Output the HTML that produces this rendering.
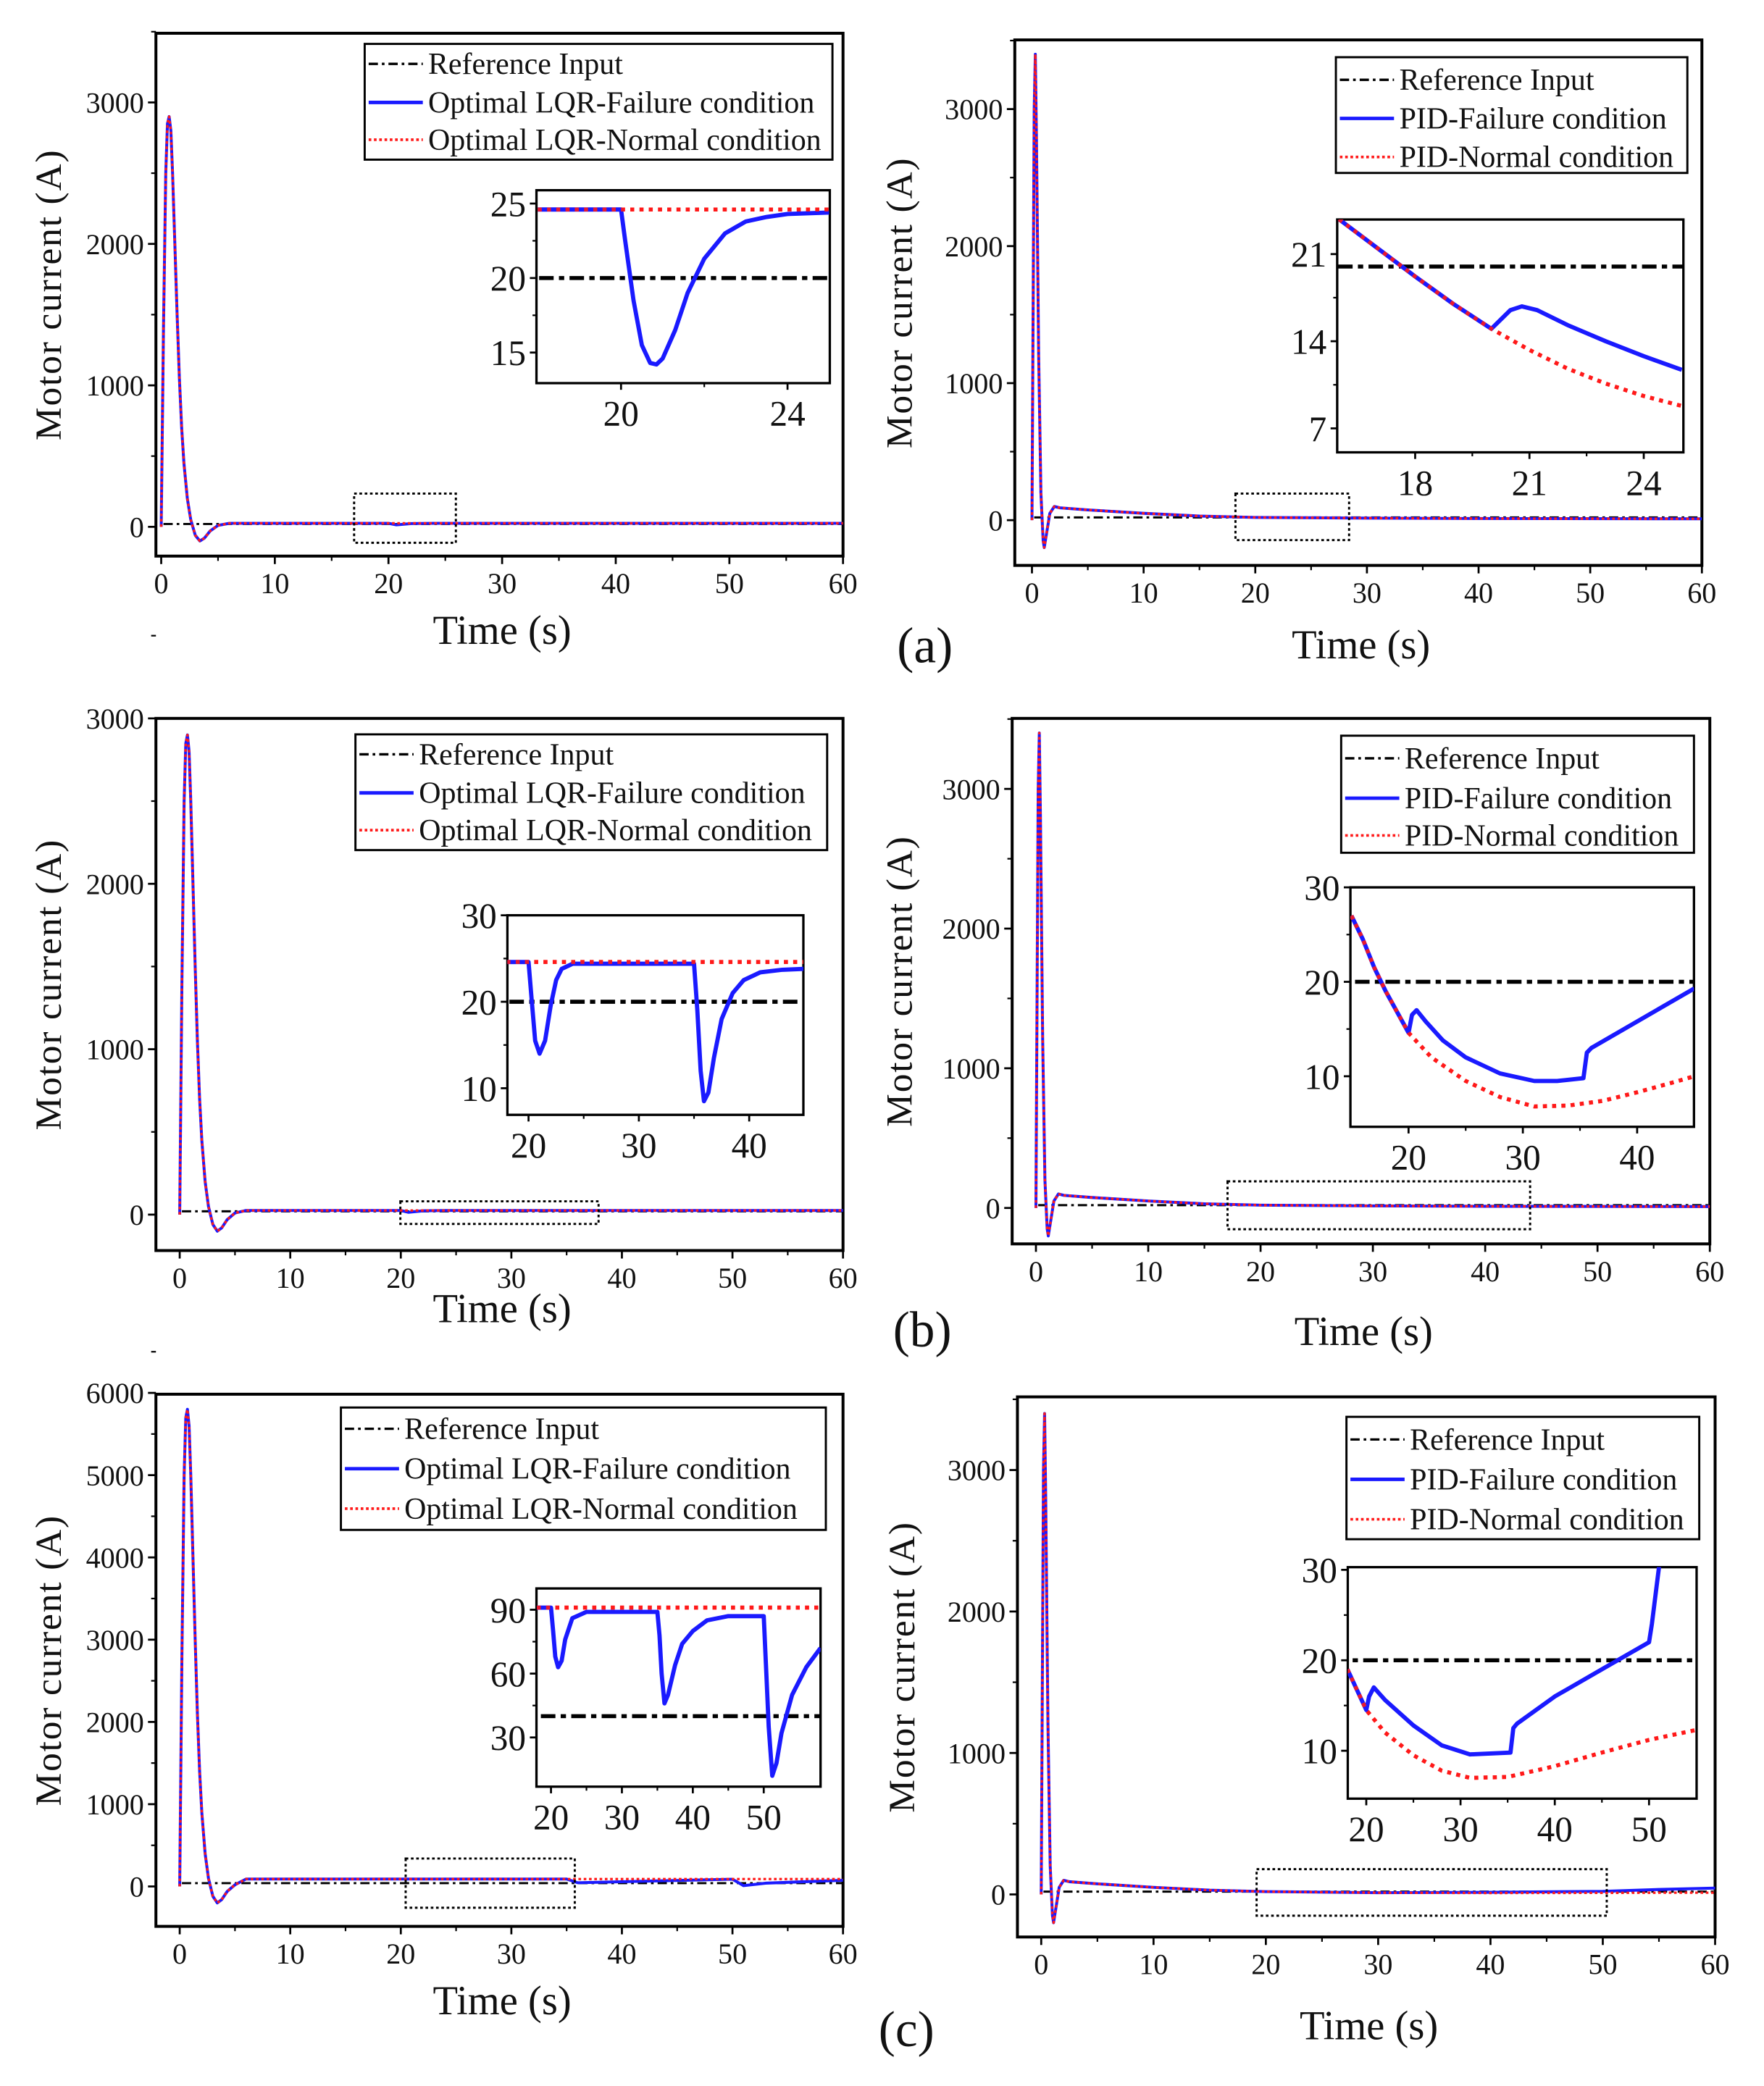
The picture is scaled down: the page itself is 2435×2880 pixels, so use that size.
<!DOCTYPE html>
<html><head><meta charset="utf-8">
<style>
html,body{margin:0;padding:0;background:#fff;}
svg{display:block;}
text{font-family:"Liberation Serif",serif;fill:#111;}
</style></head>
<body>
<svg id="fig" width="2435" height="2880" viewBox="0 0 1335 1568" preserveAspectRatio="none" xmlns="http://www.w3.org/2000/svg"></svg>
<script>
// ===== Data arrays =====
// Panel a-left (LQR)
const a1MainT = [0,0.2,0.4,0.55,0.7,0.85,1.0,1.2,1.4,1.6,1.8,2.0,2.3,2.6,3.0,3.4,3.8,4.3,5.0,6.0,10,20,20.7,22,24,60];
const a1MainV = [0,1400,2500,2850,2900,2800,2500,2000,1500,1050,700,450,200,50,-60,-100,-80,-30,10,25,25,25,14,23,25,25];
const a1MainN = [0,1400,2500,2850,2900,2800,2500,2000,1500,1050,700,450,200,50,-60,-100,-80,-30,10,25,25,25,25,25,25,25];
const a1InT = [18,20,20.1,20.3,20.5,20.7,20.85,21,21.3,21.6,22,22.5,23,23.5,24,25];
const a1InF = [24.6,24.6,22.5,18.5,15.5,14.3,14.2,14.6,16.5,19,21.3,23,23.8,24.1,24.3,24.4];
const a1InN = [24.6,24.6,24.6,24.6,24.6,24.6,24.6,24.6,24.6,24.6,24.6,24.6,24.6,24.6,24.6,24.6];
// Panel a-right (PID)
const pidMainT = [0,0.1,0.2,0.3,0.4,0.6,0.8,1.0,1.1,1.3,1.6,2.0,2.5,5,10,15,20,30,40,60];
const pidMainV = [0,1500,3000,3400,2800,1200,200,-150,-200,-100,50,100,90,75,50,30,20,15,12,10];
const a2InNT = [16,17,18,19,20,21,22,23,24,25];
const a2InN = [23.8,21.5,19.2,17,15,13.3,11.8,10.6,9.6,8.8];
const a2InFT = [16,17,18,19,20,20.2,20.5,20.8,21.2,22,23,24,25];
const a2InF = [23.8,21.5,19.2,17,15,15.6,16.5,16.8,16.5,15.3,14,12.8,11.7];
// Panel b-left (LQR)
const b1InT = [18,20,20.3,20.6,21,21.5,22,22.5,23,24,35,35.3,35.6,35.9,36.3,36.8,37.5,38.5,39.5,41,43,45];
const b1InF = [24.6,24.6,20,15.5,14,15.5,19.5,22.5,23.8,24.4,24.4,19,12,8.5,9.5,13.5,18,21,22.5,23.4,23.7,23.8];
const b1InN = [24.6,24.6,24.6,24.6,24.6,24.6,24.6,24.6,24.6,24.6,24.6,24.6,24.6,24.6,24.6,24.6,24.6,24.6,24.6,24.6,24.6,24.6];
// Panel b-right (PID)
const b2InNT = [15,16,17,18,20,22,25,28,31,34,37,40,43,45];
const b2InN = [27,24.5,21.5,19,14.6,12,9.5,7.8,6.8,6.9,7.4,8.3,9.3,10];
const b2InFT = [15,16,17,18,20,20.3,20.7,21.5,23,25,28,31,33,35.3,35.6,36,40,45];
const b2InF = [27,24.5,21.5,19,14.6,16.5,17,15.8,13.8,12,10.3,9.5,9.5,9.8,12.5,13,15.8,19.3];
// Panel c-left (LQR)
const c1MainT = [0,0.2,0.4,0.55,0.7,0.85,1.0,1.2,1.4,1.6,1.8,2.0,2.3,2.6,3.0,3.4,3.8,4.3,5.0,6.0,20,35,36,50,51,53,60];
const c1MainF = [0,2800,5000,5700,5800,5600,5000,4000,3000,2100,1400,900,400,100,-120,-200,-160,-60,20,90,90,90,45,88,10,40,75];
const c1MainN = [0,2800,5000,5700,5800,5600,5000,4000,3000,2100,1400,900,400,100,-120,-200,-160,-60,20,90,90,90,90,90,90,90,90];
const c1InT = [18,20,20.3,20.6,21,21.5,22,23,25,35,35.3,35.6,36,36.5,37.5,38.5,40,42,45,50,50.3,50.7,51.2,51.8,52.5,54,56,58];
const c1InF = [91,91,80,68,63,66,76,86,89,89,78,60,46,50,64,74,80,85,87,87,65,35,12,18,32,50,63,72];
const c1InN = c1InT.map(() => 91);
// Panel c-right (PID)
const c2MainT = [0,0.1,0.2,0.3,0.4,0.6,0.8,1.0,1.1,1.3,1.6,2.0,2.5,5,10,15,20,30,40,50,55,60];
const c2MainF = [0,1500,3000,3400,2800,1200,200,-150,-200,-100,50,100,90,75,50,30,20,12,15,22,35,45];
const c2MainN = [0,1500,3000,3400,2800,1200,200,-150,-200,-100,50,100,90,75,50,30,20,12,10,11,12,12];
const c2InNT = [18,20,22,25,28,31,35,40,45,50,55];
const c2InN = [19,14.5,12,9.5,7.8,7,7.1,8.3,9.8,11.2,12.3];
const c2InFT = [18,20,20.3,20.8,22,25,28,31,35.3,35.6,36,40,45,50,50.3,51.5];
const c2InF = [19,14.5,16,17,15.6,12.8,10.6,9.6,9.8,12.5,13,16,19,22,24,34];
// Tick labels
const xTicksMain = [0,10,20,30,40,50,60];

// ===== Drawing helpers =====
const NS = "http://www.w3.org/2000/svg";
const svg = document.getElementById('fig');
let clipId = 0;
function mk(tag, attrs, parent) {
  const e = document.createElementNS(NS, tag);
  for (const k in attrs) e.setAttribute(k, attrs[k]);
  (parent || svg).appendChild(e);
  return e;
}
function scaleLin(d0, d1, r0, r1) { return v => r0 + (v - d0) * (r1 - r0) / (d1 - d0); }

function drawAxes(g, box, xs, ys, xt, xmin, yt, ymin, fs, tickLen, big) {
  const fr = mk('rect', {x: box.x0, y: box.y0, width: box.x1 - box.x0, height: box.y1 - box.y0, fill: 'none', stroke: '#000', 'stroke-width': big ? 2.2 : 1.8}, g);
  
  
  xt.forEach(v => {
    const x = xs(v);
    mk('line', {x1: x, x2: x, y1: box.y1, y2: box.y1 + tickLen, stroke: '#000', 'stroke-width': 1.5}, g);
    const t = mk('text', {x: x, y: box.y1 + tickLen + fs * 1.0, 'font-size': fs, 'text-anchor': 'middle'}, g);
    t.textContent = v;
    
    
  });
  xmin.forEach(v => { const x = xs(v); mk('line', {x1: x, x2: x, y1: box.y1, y2: box.y1 + tickLen * 0.6, stroke: '#000', 'stroke-width': 1.2}, g); });
  yt.forEach(v => {
    const y = ys(v);
    mk('line', {x1: box.x0 - tickLen, x2: box.x0, y1: y, y2: y, stroke: '#000', 'stroke-width': 1.5}, g);
    const t = mk('text', {x: box.x0 - tickLen - 3, y: y + fs * 0.35, 'font-size': fs, 'text-anchor': 'end'}, g);
    t.textContent = v;
    
    
  });
  ymin.forEach(v => { const y = ys(v); mk('line', {x1: box.x0 - tickLen * 0.6, x2: box.x0, y1: y, y2: y, stroke: '#000', 'stroke-width': 1.2}, g); });
}
function clipFor(g, box) {
  const id = 'clip' + (clipId++);
  const cp = mk('clipPath', {id: id}, g);
  mk('rect', {x: box.x0, y: box.y0, width: box.x1 - box.x0, height: box.y1 - box.y0}, cp);
  return mk('g', {'clip-path': 'url(#' + id + ')'}, g);
}
function line(g, T, V, xs, ys, style, name) {
  const d = T.map((t, i) => (i ? 'L' : 'M') + xs(t).toFixed(2) + ',' + ys(V[i]).toFixed(2)).join(' ');
  const p = mk('path', Object.assign({d: d, fill: 'none', 'stroke-linejoin': 'round'}, style), g);
  
  
  return p;
}
function hline(g, v, xa, xb, xs, ys, style, name) {
  return line(g, [xa, xb], [v, v], xs, ys, style, name);
}
const STY = {
  refMain: {stroke: '#000', 'stroke-width': 1.6, 'stroke-dasharray': '7,3,2,3'},
  refIn: {stroke: '#000', 'stroke-width': 3, 'stroke-dasharray': '11,4,4,4'},
  blueMain: {stroke: '#1a1aff', 'stroke-width': 2.2},
  redMain: {stroke: '#ff1a1a', 'stroke-width': 1.8, 'stroke-dasharray': '2,2'},
  blueIn: {stroke: '#1a1aff', 'stroke-width': 3.2},
  redIn: {stroke: '#ff1a1a', 'stroke-width': 3, 'stroke-dasharray': '3,4'}
};
function legend(g, box, rows, labels, fs) {
  const lg = mk('g', {}, g);
  
  
  mk('rect', {x: box.x0, y: box.y0, width: box.x1 - box.x0, height: box.y1 - box.y0, fill: '#fff', stroke: '#000', 'stroke-width': 1.6}, lg);
  const st = [{stroke: '#000', 'stroke-width': 1.8, 'stroke-dasharray': '7,3,2,3'}, {stroke: '#1a1aff', 'stroke-width': 2.6}, {stroke: '#ff1a1a', 'stroke-width': 2, 'stroke-dasharray': '2,2'}];
  rows.forEach((y, i) => {
    const s = mk('line', Object.assign({x1: box.x0 + 3, x2: box.x0 + 44, y1: y, y2: y}, st[i]), lg);
    
    
    const t = mk('text', {x: box.x0 + 48, y: y + fs * 0.33, 'font-size': fs}, lg);
    t.textContent = labels[i];
    
    
  });
}
function labels(g, box, ylabX, xTitleY) {
  const cy = (box.y0 + box.y1) / 2;
  const yl = mk('text', {x: ylabX, y: cy, 'font-size': 28, 'text-anchor': 'middle', transform: 'rotate(-90 ' + ylabX + ' ' + cy + ')', 'font-family': '"Liberation Sans",sans-serif', 'letter-spacing': '1'}, g);
  yl.textContent = 'Motor current (A)';
  
  
  const xl = mk('text', {x: (box.x0 + box.x1) / 2 + 2, y: xTitleY, 'font-size': 31, 'text-anchor': 'middle'}, g);
  xl.textContent = 'Time (s)';
  
  
}
function zoomBox(g, x0, x1, y0, y1) {
  const r = mk('rect', {x: x0, y: y0, width: x1 - x0, height: y1 - y0, fill: 'none', stroke: '#000', 'stroke-width': 1.6, 'stroke-dasharray': '2,2'}, g);
  
  
}
const LQRlab = ['Reference Input', 'Optimal LQR-Failure condition', 'Optimal LQR-Normal condition'];
const PIDlab = ['Reference Input', 'PID-Failure condition', 'PID-Normal condition'];

function panel(name, P) {
  const g = mk('g', {});
  
  
  const B = P.box;
  const xs = scaleLin(0, 60, P.x0px, P.x60px);
  const ys = scaleLin(P.ya, P.yb, P.yapx, P.ybpx);
  const minX = [5, 15, 25, 35, 45, 55];
  const yMin = P.yTicks.slice(0, -1).map((v, i) => (v + P.yTicks[i + 1]) / 2).concat([P.yTicks[P.yTicks.length - 1] + (P.yTicks[1] - P.yTicks[0]) / 2]);
  drawAxes(g, B, xs, ys, xTicksMain, minX, P.yTicks, yMin, 22, 6, true);
  const c = clipFor(g, B);
  hline(c, P.ref, 0.2, 61, xs, ys, STY.refMain, 'reference-input-line');
  line(c, P.mT, P.mF, xs, ys, STY.blueMain, 'failure-condition-line');
  line(c, P.mT, P.mN, xs, ys, STY.redMain, 'normal-condition-line');
  zoomBox(g, P.zb[0], P.zb[1], P.zb[2], P.zb[3]);
  legend(g, P.lg, P.lgRows, P.lgLab, 23);
  // inset
  const I = P.ib;
  const ig = mk('g', {}, g);
  
  
  mk('rect', {x: I.x0, y: I.y0, width: I.x1 - I.x0, height: I.y1 - I.y0, fill: '#fff'}, ig);
  const ixs = scaleLin(P.ix[0], P.ix[1], P.ix[2], P.ix[3]);
  const iys = scaleLin(P.iy[0], P.iy[1], P.iy[2], P.iy[3]);
  const ixMin = P.ixT.slice(0, -1).map((v, i) => (v + P.ixT[i + 1]) / 2);
  const iyMin = P.iyT.slice(0, -1).map((v, i) => (v + P.iyT[i + 1]) / 2);
  drawAxes(ig, I, ixs, iys, P.ixT, ixMin, P.iyT, iyMin, 27, 5, false);
  const ic = clipFor(ig, I);
  hline(ic, P.ref, P.ix[0] - 10, P.ix[1] + 40, ixs, iys, STY.refIn, 'inset-reference-line');
  line(ic, P.iNT, P.iN, ixs, iys, STY.redIn, 'inset-normal-line');
  line(ic, P.iFT, P.iF, ixs, iys, STY.blueIn, 'inset-failure-line');
  line(ic, P.iNT, P.iN, ixs, iys, {stroke: '#ff1a1a', 'stroke-width': 3, 'stroke-dasharray': '3,4', opacity: 0.9}, 'inset-normal-overlay');
  labels(g, B, P.ylabX, P.xTitleY);
}

panel('panel-a-lqr', {
  box: {x0: 118, x1: 638, y0: 25, y1: 418}, x0px: 122, x60px: 638, ya: 0, yb: 3000, yapx: 396, ybpx: 77,
  yTicks: [0, 1000, 2000, 3000], ref: 20, mT: a1MainT, mF: a1MainV, mN: a1MainN,
  zb: [268, 345, 371, 408], lg: {x0: 276, x1: 630, y0: 33, y1: 120}, lgRows: [48, 77, 105], lgLab: LQRlab,
  ib: {x0: 406, x1: 628, y0: 143, y1: 288}, ix: [20, 24, 470, 596], iy: [15, 25, 265, 153], ixT: [20, 24], iyT: [15, 20, 25],
  iNT: a1InT, iN: a1InN, iFT: a1InT, iF: a1InF, ylabX: 46, xTitleY: 484
});
panel('panel-a-pid', {
  box: {x0: 768, x1: 1288, y0: 30, y1: 425}, x0px: 781, x60px: 1288, ya: 0, yb: 3000, yapx: 391, ybpx: 82,
  yTicks: [0, 1000, 2000, 3000], ref: 20, mT: pidMainT, mF: pidMainV, mN: pidMainV,
  zb: [935, 1021, 371, 406], lg: {x0: 1011, x1: 1277, y0: 43, y1: 130}, lgRows: [60, 89, 118], lgLab: PIDlab,
  ib: {x0: 1012, x1: 1274, y0: 165, y1: 340}, ix: [18, 24, 1071, 1244], iy: [7, 21, 322, 191], ixT: [18, 21, 24], iyT: [7, 14, 21],
  iNT: a2InNT, iN: a2InN, iFT: a2InFT, iF: a2InF, ylabX: 690, xTitleY: 495
});
panel('panel-b-lqr', {
  box: {x0: 118, x1: 638, y0: 540, y1: 940}, x0px: 136, x60px: 638, ya: 0, yb: 3000, yapx: 913, ybpx: 540,
  yTicks: [0, 1000, 2000, 3000], ref: 20, mT: a1MainT, mF: a1MainV, mN: a1MainN,
  zb: [303, 453, 903, 920], lg: {x0: 269, x1: 626, y0: 552, y1: 639}, lgRows: [567, 596, 624], lgLab: LQRlab,
  ib: {x0: 384, x1: 608, y0: 688, y1: 838}, ix: [20, 40, 400, 567], iy: [10, 30, 818, 688], ixT: [20, 30, 40], iyT: [10, 20, 30],
  iNT: b1InT, iN: b1InN, iFT: b1InT, iF: b1InF, ylabX: 46, xTitleY: 994
});
panel('panel-b-pid', {
  box: {x0: 766, x1: 1294, y0: 540, y1: 935}, x0px: 784, x60px: 1294, ya: 0, yb: 3000, yapx: 908, ybpx: 593,
  yTicks: [0, 1000, 2000, 3000], ref: 20, mT: pidMainT, mF: pidMainV, mN: pidMainV,
  zb: [929, 1158, 888, 924], lg: {x0: 1015, x1: 1282, y0: 553, y1: 641}, lgRows: [570, 600, 628], lgLab: PIDlab,
  ib: {x0: 1022, x1: 1282, y0: 667, y1: 847}, ix: [20, 40, 1066, 1239], iy: [10, 30, 809, 667], ixT: [20, 30, 40], iyT: [10, 20, 30],
  iNT: b2InNT, iN: b2InN, iFT: b2InFT, iF: b2InF, ylabX: 690, xTitleY: 1011
});
panel('panel-c-lqr', {
  box: {x0: 118, x1: 638, y0: 1048, y1: 1448}, x0px: 136, x60px: 638, ya: 0, yb: 6000, yapx: 1418, ybpx: 1047,
  yTicks: [0, 1000, 2000, 3000, 4000, 5000, 6000], ref: 40, mT: c1MainT, mF: c1MainF, mN: c1MainN,
  zb: [307, 435, 1397, 1434], lg: {x0: 258, x1: 625, y0: 1058, y1: 1150}, lgRows: [1074, 1104, 1134], lgLab: LQRlab,
  ib: {x0: 406, x1: 621, y0: 1194, y1: 1343}, ix: [20, 50, 417, 578], iy: [30, 90, 1306, 1210], ixT: [20, 30, 40, 50], iyT: [30, 60, 90],
  iNT: c1InT, iN: c1InN, iFT: c1InT, iF: c1InF, ylabX: 46, xTitleY: 1514
});
panel('panel-c-pid', {
  box: {x0: 770, x1: 1298, y0: 1050, y1: 1456}, x0px: 788, x60px: 1298, ya: 0, yb: 3000, yapx: 1424, ybpx: 1105,
  yTicks: [0, 1000, 2000, 3000], ref: 20, mT: c2MainT, mF: c2MainF, mN: c2MainN,
  zb: [951, 1216, 1405, 1440], lg: {x0: 1019, x1: 1286, y0: 1065, y1: 1157}, lgRows: [1082, 1112, 1142], lgLab: PIDlab,
  ib: {x0: 1020, x1: 1284, y0: 1178, y1: 1352}, ix: [20, 50, 1034, 1248], iy: [10, 30, 1316, 1180], ixT: [20, 30, 40, 50], iyT: [10, 20, 30],
  iNT: c2InNT, iN: c2InN, iFT: c2InFT, iF: c2InF, ylabX: 692, xTitleY: 1533
});
[['(a)', 700, 498], ['(b)', 698, 1012], ['(c)', 686, 1538]].forEach(a => {
  const t = mk('text', {x: a[1], y: a[2], 'font-size': 38, 'text-anchor': 'middle'});
  t.textContent = a[0];
  
  
});
</script>
</body></html>
